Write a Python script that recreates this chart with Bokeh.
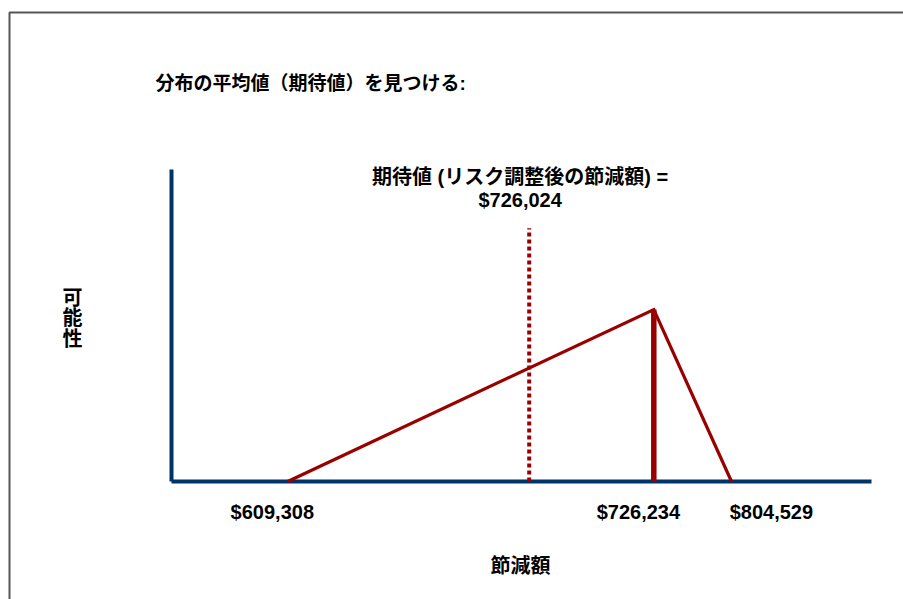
from bokeh.plotting import figure
from bokeh.models import Range1d
from bokeh.core.properties import value
from bokeh.embed import file_html
from bokeh.resources import INLINE

# ---- data (schematic triangular distribution) ----
point_values = [609308, 726234, 804529]          # min, most likely, max
point_pos = [16.6, 68.9, 80.0]                     # schematic position on 0-100 axis
peak_height = 0.553                                # relative likelihood at mode
expected_value = 726024
expected_pos = 51.1
expected_line_top = 0.814
tick_labels = ["$609,308", "$726,234", "$804,529"]
tick_label_pos = [14.4, 66.7, 85.7]

title = "分布の平均値（期待値）を見つける:"
ev_label = ["期待値 (リスク調整後の節減額) =", "$" + f"{expected_value:,}"]
x_title = "節減額"
y_title = "可\n能\n性"

W, H = 903, 599
# axis geometry: 1 x-unit = 7 px, 1 y-unit = 311 px
px_x, px_y = 7.0, 311.0
x0_px, y0_px = 171.0, 481.0
x_lo = -x0_px / px_x
x_hi = (W - x0_px) / px_x
y_hi = y0_px / px_y
y_lo = -(H - y0_px) / px_y

p = figure(width=W, height=H, output_backend="svg", toolbar_location=None,
           x_range=Range1d(x_lo, x_hi), y_range=Range1d(y_lo, y_hi),
           min_border=0, min_border_left=0, min_border_right=0,
           min_border_top=0, min_border_bottom=0)
p.axis.visible = False
p.grid.visible = False
p.outline_line_color = None
p.background_fill_color = "white"
p.border_fill_color = "white"

def dx(px):
    return (px - x0_px) / px_x

def dy(py):
    return (y0_px - py) / px_y

# frame border (decoration)
p.line([dx(9), dx(9), dx(960)], [dy(640), dy(12), dy(12)],
       line_color="#555555", line_width=2)

FONT = value("Liberation Sans, Noto Sans CJK JP")
RED = "#990000"
BLUE = "#003366"

# axes
p.line([0, 0], [0, dy(169)], line_color=BLUE, line_width=4)
p.line([0, 100], [0, 0], line_color=BLUE, line_width=4)

# triangle distribution
tri_x = [point_pos[0], point_pos[1], point_pos[2]]
tri_y = [0, peak_height, 0]
p.line(tri_x, tri_y, line_color=RED, line_width=3.2, line_join="miter")
# mode line
p.line([point_pos[1], point_pos[1]], [0, peak_height], line_color=RED, line_width=5.5)
# expected value dotted line
p.line([expected_pos, expected_pos], [0, expected_line_top], line_color=RED,
       line_width=4, line_dash="4 3")

# texts
p.text(x=[dx(155)], y=[dy(83)], text=[title], text_font=FONT, text_font_size="19px",
       text_font_style="bold", text_baseline="middle", text_align="left", text_color="black")
p.text(x=[expected_pos - 1.3, expected_pos - 1.3], y=[dy(176), dy(199)], text=ev_label,
       text_font=FONT, text_font_size="20px", text_font_style="bold",
       text_baseline="middle", text_align="center", text_color="black")
p.text(x=tick_label_pos, y=[dy(511)] * 3, text=tick_labels, text_font=FONT,
       text_font_size="20px", text_font_style="bold", text_baseline="middle",
       text_align="center", text_color="black")
p.text(x=[dx(520)], y=[dy(565)], text=[x_title], text_font=FONT, text_font_size="20px",
       text_font_style="bold", text_baseline="middle", text_align="center", text_color="black")
p.text(x=[dx(72)], y=[dy(318)], text=[y_title], text_font=FONT, text_font_size="20px",
       text_font_style="bold", text_baseline="middle", text_align="center",
       text_line_height=0.95, text_color="black")

open("out.html", "w").write(file_html(p, INLINE))
